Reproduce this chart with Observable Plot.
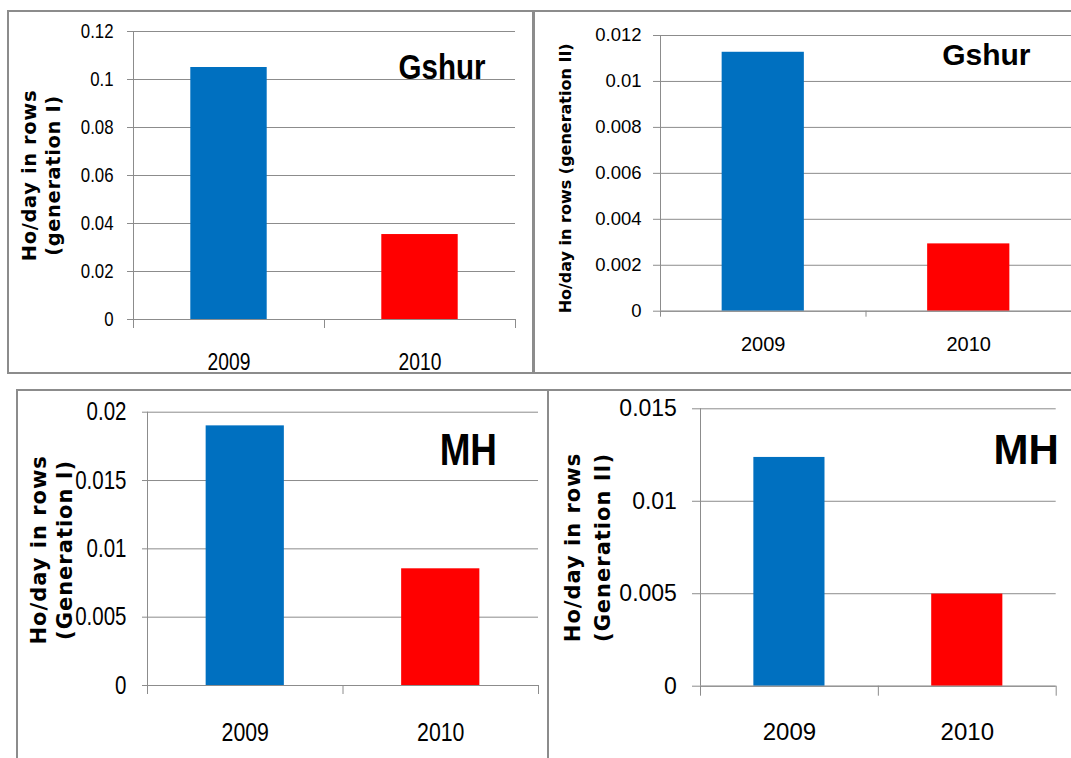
<!DOCTYPE html>
<html><head><meta charset="utf-8">
<script src="https://cdn.jsdelivr.net/npm/d3@7"></script>
<script src="https://cdn.jsdelivr.net/npm/@observablehq/plot@0.6"></script>
<style>
html,body{margin:0;padding:0;background:#fff;overflow:hidden}
#page{position:relative;width:1071px;height:758px;overflow:hidden;background:#fff}
.box{position:absolute;box-sizing:border-box;border:2px solid #8c8c8c}
.plot{position:absolute}
</style></head><body><div id="page"></div>
<script>
// ---- data ----
const years = ["2009", "2010"];
const gshurGen1 = [0.105, 0.0354];
const gshurGen2 = [0.01127, 0.00293];
const mhGen1 = [0.0190, 0.00854];
const mhGen2 = [0.01237, 0.00498];
const gshurGen1Ticks = [0, 0.02, 0.04, 0.06, 0.08, 0.1, 0.12];
const gshurGen2Ticks = [0, 0.002, 0.004, 0.006, 0.008, 0.01, 0.012];
const mhGen1Ticks = [0, 0.005, 0.01, 0.015, 0.02];
const mhGen2Ticks = [0, 0.005, 0.01, 0.015];
const titles = ["Gshur", "Gshur", "MH", "MH"];
const yLabels = [
  "Ho/day in rows\n(generation I)",
  "Ho/day in rows (generation II)",
  "Ho/day in rows\n(Generation I)",
  "Ho/day in rows\n(Generation II)"
];

// ---- styles ----
const BAR_COLORS = ["#0070C0", "#FF0000"];
const GRID = "#8c8c8c";
const SANS = "'Liberation Sans', Arial, sans-serif";
const fmt = d3.format("~g");

// narrow: horizontal squeeze factor for text that is condensed in the reference (1 = none)
const panels = [
  {box: [7, 10, 527, 364], pos: [9, 12, 521, 360], m: [124, 15, 19, 53],
   values: gshurGen1, ticks: gshurGen1Ticks, title: titles[0], ylabel: yLabels[0], narrow: 0.82,
   yTick: 6, yPad: 14, yFs: 20.5, xTick: 9, xPad: 34, xFs: 23.5,
   tFs: 36, tdx: -30, tdy: 22, lFs: 19.5, ls: 0.6, lh: 1.28, ldx: -93.5, ldy: 0},
  {box: [533, 10, 560, 364], pos: [535, 12, 536, 360], m: [125, 0, 23, 61.3],
   values: gshurGen2, ticks: gshurGen2Ticks, title: titles[1], ylabel: yLabels[1], narrow: 1,
   yTick: 7, yPad: 12, yFs: 18.5, xTick: 6, xPad: 26, xFs: 20,
   tFs: 30, tdx: -41, tdy: 8, lFs: 16, ls: 0, lh: 1.2, ldx: -96, ldy: 5},
  {box: [16, 389, 533, 420], pos: [18, 393, 528, 365], m: [129, 8, 18.7, 73],
   values: mhGen1, ticks: mhGen1Ticks, title: titles[2], ylabel: yLabels[2], narrow: 0.82,
   yTick: 5, yPad: 16, yFs: 25, xTick: 9, xPad: 37, xFs: 26,
   tFs: 45, tdx: -41.5, tdy: 21, lFs: 21, ls: 1.0, lh: 1.22, ldx: -96.75, ldy: 1},
  {box: [547, 389, 560, 420], pos: [550, 392, 521, 366], m: [150, 15.3, 16.3, 72.3],
   values: mhGen2, ticks: mhGen2Ticks, title: titles[3], ylabel: yLabels[3], narrow: 1,
   yTick: 8, yPad: 15.6, yFs: 23, xTick: 10, xPad: 37, xFs: 24,
   tFs: 42, tdx: 2.7, tdy: 25, lFs: 21, ls: 1.0, lh: 1.43, ldx: -115, ldy: 0}
];

const page = document.getElementById("page");

function squeezeEl(t, k) {
  if (k === 1) return;
  const tr = t.getAttribute("transform") || "";
  t.setAttribute("transform", tr + ` scale(${k},1)`);
}

function makePanel(c) {
  const [ml, mr, mt, mb] = c.m;
  const [left, top, width, height] = c.pos;
  const rows = years.map((year, i) => ({i, year, value: c.values[i]}));
  const cell = (width - ml - mr) / years.length;
  const inset = cell * 0.3;
  const svg = Plot.plot({
    width, height,
    marginLeft: ml, marginRight: mr, marginTop: mt, marginBottom: mb,
    style: {background: "transparent", color: "#000", fontFamily: SANS, overflow: "visible"},
    x: {type: "linear", domain: [0, years.length]},
    y: {type: "linear", domain: [0, c.ticks[c.ticks.length - 1]]},
    color: {domain: years, range: BAR_COLORS},
    marks: [
      Plot.ruleY(c.ticks, {stroke: GRID, strokeWidth: 1}),
      Plot.rectY(rows, {x: "i", interval: 1, y1: 0, y2: "value", fill: "year", insetLeft: inset, insetRight: inset}),
      Plot.ruleX([0], {stroke: GRID, strokeWidth: 1}),
      Plot.ruleY([0], {stroke: GRID, strokeWidth: 1}),
      Plot.axisY({ticks: c.ticks, tickSize: c.yTick, tickPadding: c.yPad, tickFormat: fmt, label: null,
                  stroke: GRID, fill: "#000", fontSize: c.yFs, fontFamily: SANS}),
      Plot.axisX({ticks: d3.range(years.length + 1), tickSize: c.xTick, tickFormat: () => "", label: null, stroke: GRID}),
      Plot.axisX({ticks: rows.map(d => d.i + 0.5), tickSize: 0, tickPadding: c.xPad,
                  tickFormat: t => years[Math.floor(t)], label: null, fill: "#000",
                  fontSize: c.xFs, fontFamily: SANS}),
      Plot.text([c.title], {frameAnchor: "top-right", textAnchor: "end", lineAnchor: "top",
                 dx: c.tdx, dy: c.tdy, fontSize: c.tFs, fontWeight: "bold", fontFamily: SANS, fill: "#000"}),
      Plot.text([c.ylabel], {frameAnchor: "left", rotate: -90, textAnchor: "middle", lineAnchor: "middle",
                 lineHeight: c.lh, dx: c.ldx, dy: c.ldy, fontSize: c.lFs, fontWeight: "bold",
                 fontFamily: "'DejaVu Sans', sans-serif", fill: "#000"})
    ]
  });
  svg.querySelectorAll("text").forEach(t => {
    const s = t.textContent;
    if (s.includes("Ho/day")) {
      t.style.letterSpacing = c.ls + "px";
    } else if (s === c.title || years.includes(s) || /^[0-9.]+$/.test(s)) {
      squeezeEl(t, c.narrow);
    }
  });
  const box = document.createElement("div");
  box.className = "box";
  const [bl, bt, bw, bh] = c.box;
  Object.assign(box.style, {left: bl + "px", top: bt + "px", width: bw + "px", height: bh + "px"});
  page.appendChild(box);
  const wrap = document.createElement("div");
  wrap.className = "plot";
  Object.assign(wrap.style, {left: left + "px", top: top + "px", width: width + "px", height: height + "px"});
  wrap.appendChild(svg);
  page.appendChild(wrap);
}
panels.forEach(makePanel);
</script></body></html>
